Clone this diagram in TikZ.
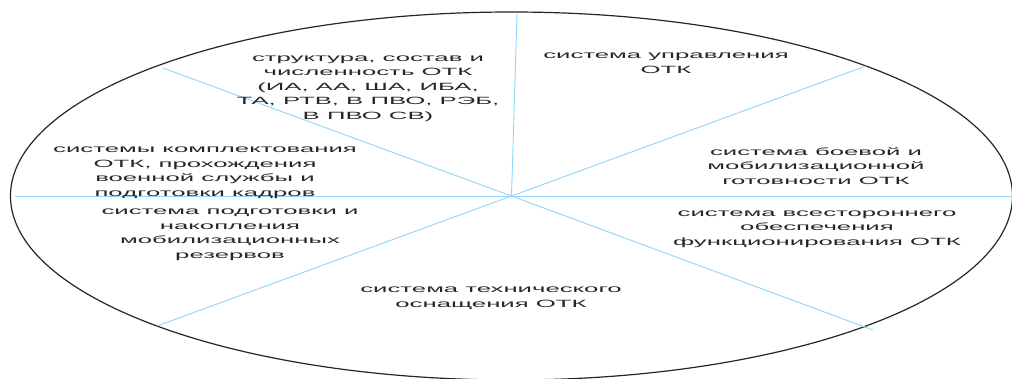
\documentclass[tikz,border=0pt]{standalone}
\usepackage{fontspec}
\newfontfamily\stf[FakeStretch=2.45]{Liberation Sans}
\definecolor{spoke}{HTML}{8FD6FC}
\definecolor{txt}{HTML}{262626}
\tikzset{
  spokeline/.style={draw=spoke, line width=0.9pt},
  rim/.style={draw=black!85, line width=1.2pt},
  lbl/.style={align=center, anchor=base, inner sep=0pt, text=txt,
    font=\stf\fontsize{10.5}{14.5}\selectfont}
}
\begin{document}
\begin{tikzpicture}[x=1pt,y=-1pt]
\useasboundingbox (0,0) rectangle (1012,378);
\fill[white] (0,0) rectangle (1012,378);
\coordinate (O) at (511.5,196);
\draw[rim] (O) ellipse [x radius=501, y radius=184];
\coordinate (pT) at (517,14);
\coordinate (pUR) at (866,66);
\coordinate (pR) at (1012,196);
\coordinate (pLR) at (873,330);
\coordinate (pLL) at (157,326);
\coordinate (pL) at (15,196);
\coordinate (pUL) at (163,68);
\foreach \p in {pT,pUR,pR,pLR,pLL,pL,pUL} \draw[spokeline] (O) -- (\p);
\node[lbl] (upr) at (666,73.3) {система управления\\ОТК};
\node[lbl] (str) at (368,119) {структура, состав и\\численность ОТК\\(ИА, АА, ША, ИБА,\\ТА, РТВ, В ПВО, РЭБ,\\В ПВО СВ)};
\node[lbl] (kom) at (205,196) {системы комплектования\\ОТК, прохождения\\военной службы и\\подготовки кадров};
\node[lbl] (boe) at (816,184) {система боевой и\\мобилизационной\\готовности ОТК};
\node[lbl] (pod) at (230,258) {система подготовки и\\накопления\\мобилизационных\\резервов};
\node[lbl] (vse) at (817,245) {система всестороннего\\обеспечения\\функционирования ОТК};
\node[lbl] (teh) at (491,307) {система технического\\оснащения ОТК};
\end{tikzpicture}
\end{document}
